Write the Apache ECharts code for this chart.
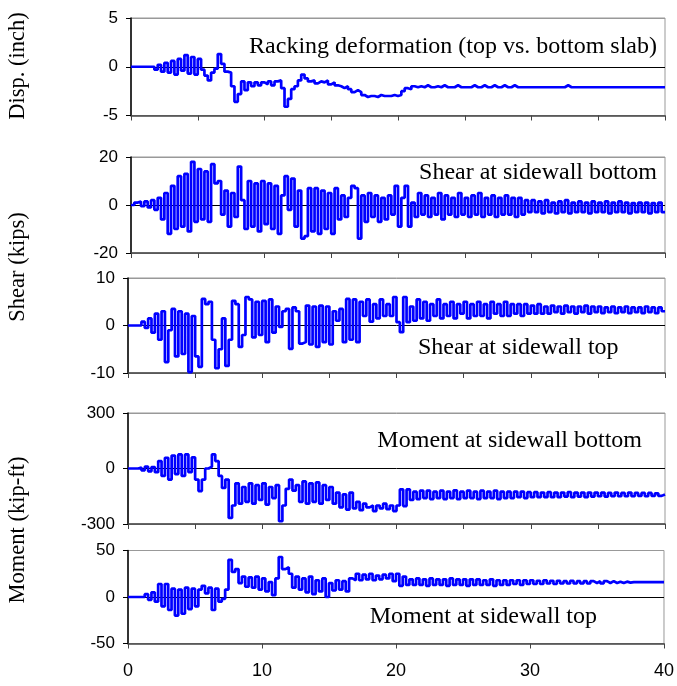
<!DOCTYPE html>
<html>
<head>
<meta charset="utf-8">
<script src="https://cdn.jsdelivr.net/npm/echarts@6/dist/echarts.min.js"></script>
<style>
  html, body { margin: 0; padding: 0; background: #fff; }
  #chart { width: 677px; height: 686px; }
</style>
</head>
<body>
<div id="chart"></div>
<script>
// samples every 0.25 s, from 0 to 40 s
const dt = 0.25

const xTicks = [0, 10, 20, 30, 40]

const disp = [
  0, 0, 0, 0, 0, 0, 0, -0.3,
  0.2, -0.5, 0.4, -0.6, 0.6, -0.8, 0.8, -0.4,
  1.2, -0.7, 1.0, -0.8, 0.8, -0.3, -0.9, -1.4,
  -0.6, -0.2, 1.3, 0.3, -0.5, -0.6, -2.0, -3.6,
  -2.8, -1.5, -2.4, -1.6, -2.0, -1.6, -1.9, -1.6,
  -1.8, -1.5, -1.9, -1.5, -1.4, -2.2, -4.1, -3.3,
  -2.3, -2.0, -1.4, -0.8, -1.2, -1.5, -1.4, -1.7,
  -1.5, -1.6, -1.4, -1.8, -1.6, -1.9, -2.0, -2.2,
  -2.0, -2.3, -2.6, -2.4, -2.6, -2.9, -3.1, -3.0,
  -3.0, -3.1, -2.9, -3.0, -3.0, -3.0, -2.9, -3.0,
  -2.9, -2.5, -2.2, -2.3, -2.0, -2.1, -2.0, -2.1,
  -1.9, -2.1, -2.1, -2.0, -2.1, -1.9, -2.1, -2.1,
  -2.1, -1.9, -2.1, -2.1, -2.1, -2.1, -1.9, -2.1,
  -2.1, -1.9, -2.1, -2.1, -1.9, -2.1, -2.1, -1.9,
  -2.1, -2.1, -1.9, -2.1, -2.1, -2.1, -2.1, -2.1,
  -2.1, -2.1, -2.1, -2.1, -2.1, -2.1, -2.1, -2.1,
  -2.1, -2.1, -1.9, -2.1, -2.1, -2.1, -2.1, -2.1,
  -2.1, -2.1, -2.1, -2.1, -2.1, -2.1, -2.1, -2.1,
  -2.1, -2.1, -2.1, -2.1, -2.1, -2.1, -2.1, -2.1,
  -2.1, -2.1, -2.1, -2.1, -2.1, -2.1, -2.1, -2.1,
  -2.1
]

const shearBottom = [
  0, 1, 1.5, -0.5, 1.5, -1, 2, -2,
  3, -6, 5, -12, 8, -10, 12, -9,
  13, -11, 18, -7, 15, -6, 14, -7,
  17, 9, 10, -4, 6, -9, 5, -5,
  16, 2, -10, 10, -9, 9, -11, 10,
  -8, 9, -10, 8, -12, 4, 12, -2,
  11, -9, 6, -14, -13, 7, -11, 7,
  -12, 6, -10, 5, -12, 7, -6, 4,
  -5, 3, 8, 7, -14, 4, -7, 5,
  -5, 4, -7, 3, -6, 4, -4, 8,
  -9, 3, 8, -9, 1, -5, 5, -4,
  4, -5, 3, -4, 5, -6, 4, -4,
  3, -5, 5, -4, 3, -5, 4, -4,
  5, -5, 3, -4, 4, -5, 3, -4,
  4, -4, 3, -5, 3, -4, 2, -3,
  2, -3, 1.5, -3.5, 2, -3, 1, -3.5,
  1.5, -3, 2, -3.5, 1, -3, 1.5, -3,
  1, -3.5, 1.5, -3, 1, -3, 1.5, -3.5,
  1, -3, 1.5, -3, 1, -3.5, 0.8, -3,
  1, -3, 1, -3.5, 0.8, -3, 1, -3,
  -2.8
]

const shearTop = [
  0, 0, 0, 0, 0.8, -0.5, 1.5, -1.5,
  2.5, -3, 3, -7.7, -1, 3.5, -6.5, 3,
  -6, 2.5, -9.8, 2, -6.5, -8.7, 5.6, 4.5,
  5, -3, -9, -5, 1.5, -8.5, -3, 5.2,
  4.5, -4.5, -2, 6, 5.5, -2.5, 5, -2,
  5.2, -3.5, 5.5, -1.5, 4, -0.3, 3, 3.5,
  -4.9, 3.8, 3, -3.8, -3.5, 4.2, -4, 4,
  -4.5, 4.2, -3.5, 4, -4, 3, 1, 3.5,
  -3.5, 5.6, -3, 5.5, -3.5, 5, 2, 5.5,
  0.8, 4.5, 1.5, 5.5, 2, 4.5, 2, 6,
  0.7, -1.4, 6, 0.7, 4, 1, 5.5, 1.5,
  5, 1, 4.5, 2, 5.5, 1.5, 4.5, 2,
  5, 1.5, 4.5, 2.5, 5, 1.5, 4.5, 2,
  5, 2, 4.5, 1.5, 5, 2.5, 4.5, 2,
  5, 2, 4.5, 2.5, 4.5, 2, 4.5, 2.5,
  4.2, 2.5, 4.5, 2.5, 4, 2.5, 4.2, 2.8,
  4, 2.5, 4.2, 2.8, 4, 2.5, 4, 2.8,
  4.2, 2.5, 4, 2.8, 4, 2.6, 3.8, 2.8,
  4, 2.6, 3.8, 2.8, 4, 2.6, 3.8, 2.8,
  3.8, 2.6, 4, 2.8, 3.8, 2.6, 3.8, 3,
  3
]

const momentBottom = [
  0, 0, 0, 5, -10, 10, -15, 8,
  -20, 40, -40, 58, -60, 70, -30, 76,
  -40, 76, -20, 60, -60, -122, -60, 0,
  10, 76, 40, -40, -105, -60, -267, -200,
  -80, -190, -100, -180, -80, -190, -90, -170,
  -80, -195, -100, -160, -90, -285, -200, -110,
  -60, -120, -90, -180, -70, -190, -80, -180,
  -75, -190, -90, -170, -100, -190, -130, -210,
  -140, -222, -130, -215, -180, -225, -190, -210,
  -200, -230, -200, -215, -190, -220, -200, -230,
  -200, -113, -203, -113, -170, -125, -165, -120,
  -160, -120, -165, -125, -160, -120, -165, -125,
  -160, -118, -165, -125, -160, -120, -160, -125,
  -165, -120, -160, -125, -160, -120, -165, -125,
  -160, -125, -160, -125, -155, -125, -160, -128,
  -155, -128, -155, -130, -155, -128, -155, -130,
  -155, -130, -152, -128, -155, -130, -152, -130,
  -155, -130, -152, -130, -150, -130, -152, -132,
  -150, -130, -150, -132, -150, -130, -150, -132,
  -148, -132, -150, -132, -148, -134, -148, -140,
  -140
]

const momentTop = [
  0, 0, 0, 0, 0, 3, -3, 5,
  -5, 14, -10, 14, -14, 9, -20, 8,
  -18, 10, -13, 9, -10, 8, 12, 4,
  10, -14, 9, -5, -2, 8, 40, 27,
  30, 15, 22, 11, 21, 10, 22, 8,
  20, 6, 16, 2, 20, 43, 30, 32,
  25, 10, 22, 8, 20, 5, 22, 3,
  18, 6, 20, 0, 15, 7, 18, 8,
  17, 6, 20, 18, 25, 18, 24, 19,
  25, 18, 23, 19, 24, 20, 25, 17,
  25, 12, 22, 13, 19, 13, 20, 13,
  19, 12, 20, 13, 19, 13, 19, 12,
  20, 13, 19, 13, 19, 12, 19, 13,
  19, 13, 18, 13, 19, 12, 18, 13,
  18, 13, 18, 14, 18, 13, 18, 14,
  18, 14, 17.5, 14, 18, 14.5, 17.5, 14,
  17.5, 14.5, 17, 14.5, 17.5, 14.5, 17, 14.5,
  17, 14.5, 17, 15, 17, 14.5, 17, 15,
  17, 15, 16.5, 15, 16.5, 15.5, 16, 16,
  16, 16, 16, 16, 16, 16, 16, 16,
  16
]

// panel boxes in pixels
const panels = [
  { data: disp,         left: 131, top: 18,    height: 97.5, max: 5,   step: 5 },
  { data: shearBottom,  left: 131, top: 157,   height: 96,   max: 20,  step: 5 },
  { data: shearTop,     left: 128, top: 278,   height: 95,   max: 10,  step: 5 },
  { data: momentBottom, left: 128, top: 413,   height: 111,  max: 300, step: 5 },
  { data: momentTop,    left: 128, top: 550.5, height: 93,   max: 50,  step: 10 }
]

const sans = 'Liberation Sans, Arial, sans-serif'
const serif = 'Liberation Serif, Times New Roman, serif'

const toPairs = arr => arr.map((v, i) => [i * dt, v])

const grid = panels.map(p => ({
  left: p.left,
  right: 12,
  top: p.top,
  height: p.height,
  show: true,
  borderColor: '#999',
  borderWidth: 1
}))

const xAxis = panels.map((p, i) => ({
  type: 'value',
  gridIndex: i,
  min: 0,
  max: 40,
  interval: p.step,
  axisLine: { show: true, onZero: false, lineStyle: { color: '#444', width: 1.5 } },
  axisTick: { show: true, length: 5, lineStyle: { color: '#444' } },
  axisLabel: {
    show: i === panels.length - 1,
    margin: 19,
    color: '#000',
    fontSize: 18,
    fontFamily: sans,
    formatter: v => xTicks.includes(v) ? String(v) : ''
  },
  splitLine: { show: false }
}))

const yAxis = panels.map((p, i) => ({
  type: 'value',
  gridIndex: i,
  min: -p.max,
  max: p.max,
  interval: p.max,
  axisLine: { show: true, lineStyle: { color: '#000', width: 1.5 } },
  axisTick: { show: true, length: 5, lineStyle: { color: '#000' } },
  axisLabel: { color: '#000', fontSize: 17, fontFamily: sans, margin: 13 },
  splitLine: { show: true, lineStyle: { color: ['#999', '#000', '#999'], width: 1 } }
}))

const series = panels.map((p, i) => ({
  type: 'line',
  xAxisIndex: i,
  yAxisIndex: i,
  step: 'end',
  showSymbol: false,
  animation: false,
  lineStyle: { color: '#0000ff', width: 2.7 },
  data: toPairs(p.data)
}))

const label = (text, x, y, align) => ({
  type: 'text',
  x: x,
  y: y,
  style: { text: text, font: '24px ' + serif, fill: '#000', align: align, verticalAlign: 'middle' }
})

const axisTitle = (text, y) => ({
  type: 'text',
  x: 18,
  y: y,
  rotation: Math.PI / 2,
  style: { text: text, font: '22.5px ' + serif, fill: '#000', align: 'center', verticalAlign: 'middle' }
})

const chart = echarts.init(document.getElementById('chart'), null, { renderer: 'canvas' })
chart.setOption({
  animation: false,
  backgroundColor: '#fff',
  grid: grid,
  xAxis: xAxis,
  yAxis: yAxis,
  series: series,
  graphic: [
    label('Racking deformation (top vs. bottom slab)', 657, 47, 'right'),
    label('Shear at sidewall bottom', 657, 173, 'right'),
    label('Shear at sidewall top', 418, 348, 'left'),
    label('Moment at sidewall bottom', 642, 441, 'right'),
    label('Moment at sidewall top', 597, 617, 'right'),
    axisTitle('Disp. (inch)', 66),
    axisTitle('Shear (kips)', 267),
    axisTitle('Moment (kip-ft)', 530)
  ]
})
</script>
</body>
</html>
